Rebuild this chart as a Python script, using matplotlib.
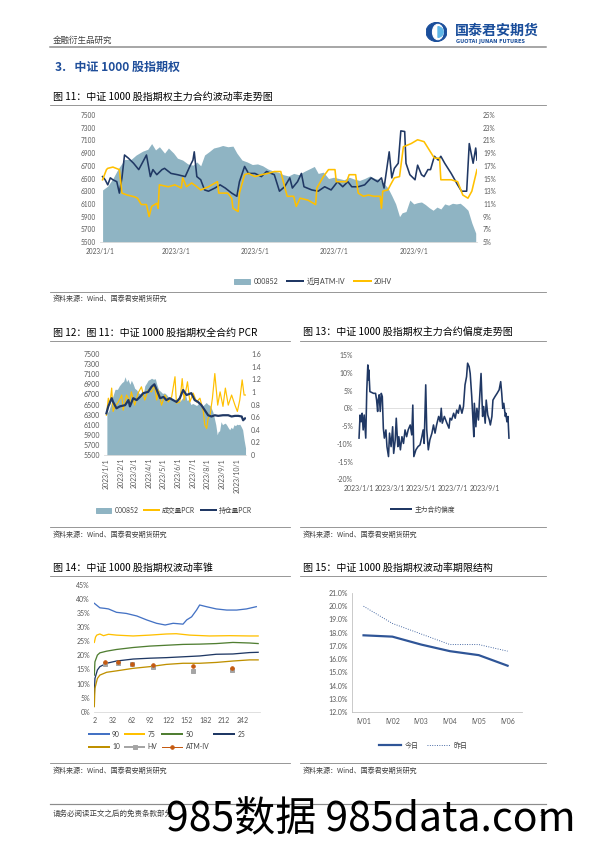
import numpy as np
import pandas as pd
import matplotlib
matplotlib.use('Agg')
import matplotlib.pyplot as plt
import matplotlib.dates as mdates
from matplotlib.lines import Line2D
from matplotlib.patches import Patch, Ellipse, Wedge

plt.rcParams['font.family'] = ['Lato', 'Noto Sans CJK SC', 'DejaVu Sans']
CJK = ['Noto Sans CJK SC', 'DejaVu Sans']

# ---------------- data ----------------
# days counted from 2023-01-01
idx_day = [2, 6, 10, 14, 19, 24, 28, 33, 37, 40, 43, 46, 50, 53, 57, 60, 64, 68, 72, 75,
           78, 81, 85, 88, 92, 95, 99, 103, 106, 110, 114, 118, 122, 126, 130, 134, 138, 142, 146, 150,
           154, 158, 162, 166, 169, 173, 177, 181, 185, 189, 193, 197, 201, 205, 209, 213, 217, 220, 223, 226,
           229, 232, 234, 237, 240, 243, 246, 249, 252, 255, 258, 261, 264, 267, 270, 273, 276, 279, 282, 285,
           288, 291]
idx_val = [6320, 6380, 6500, 6650, 6800, 6800, 6870, 6930, 6960, 7050, 6950, 7000, 6900, 6980, 6900, 6820, 6790, 6730, 6710, 6760,
           6700, 6870, 6930, 6980, 7000, 7020, 7000, 7010, 6900, 6790, 6760, 6720, 6730, 6700, 6650, 6620, 6600, 6560, 6540, 6580,
           6560, 6610, 6650, 6690, 6580, 6600, 6500, 6520, 6500, 6480, 6520, 6490, 6470, 6500, 6540, 6500, 6480, 6420, 6350, 6230,
           6100, 5900, 5960, 5980, 6160, 6100, 6120, 6130, 6090, 6040, 6000, 6050, 6020, 6100, 6080, 6110, 6100, 6110, 6060, 6000,
           5800, 5640]

atm_day = [2, 4, 6, 8, 10, 13, 15, 17, 19, 22, 26, 30, 36, 39, 41, 44, 48, 50, 55, 60,
           66, 70, 72, 73, 75, 78, 81, 84, 89, 93, 97, 102, 106, 108, 112, 115, 120, 125, 129, 135,
           139, 143, 147, 149, 153, 156, 158, 164, 169, 174, 179, 184, 188, 192, 195, 200, 205, 210, 215, 218,
           220, 224, 226, 228, 231, 233, 236, 237, 240, 244, 246, 249, 251, 254, 256, 259, 262, 264, 267, 272,
           277, 280, 284, 286, 289, 291, 292]
atm_val = [15.3, 14.8, 14.0, 15.1, 14.8, 14.5, 12.7, 15.1, 18.7, 18.2, 17.4, 16.4, 18.7, 15.3, 16.4, 15.6, 16.4, 16.6, 15.8, 15.6,
           15.3, 17.1, 17.9, 19.2, 15.3, 14.8, 13.2, 13.0, 13.5, 14.0, 13.5, 12.7, 12.2, 14.5, 16.9, 15.8, 15.8, 15.3, 16.1, 15.6,
           13.0, 13.7, 15.1, 13.5, 14.5, 15.8, 13.7, 13.2, 13.0, 13.7, 13.2, 14.5, 13.7, 14.5, 13.7, 13.7, 14.0, 15.1, 14.5, 15.1,
           13.5, 19.2, 15.1, 16.6, 17.4, 22.5, 22.4, 17.4, 15.6, 14.8, 17.1, 15.6, 15.3, 16.4, 16.4, 18.5, 17.9, 18.5, 17.4, 15.8,
           14.0, 13.0, 13.0, 20.5, 17.4, 19.8, 17.9]

hv_day = [2, 5, 6, 10, 15, 17, 21, 27, 29, 32, 36, 38, 40, 44, 45, 46, 53, 58, 63, 64,
          67, 71, 75, 78, 84, 91, 92, 99, 102, 103, 107, 108, 112, 115, 120, 125, 130, 135, 140, 143,
          145, 150, 152, 155, 161, 167, 168, 173, 177, 182, 183, 191, 193, 198, 200, 204, 208, 212, 217, 218,
          219, 223, 225, 228, 232, 235, 241, 246, 251, 255, 259, 263, 264, 272, 277, 281, 285, 288, 292]
hv_val = [14.8, 16.4, 16.6, 16.8, 16.4, 12.7, 12.4, 12.1, 11.9, 10.9, 10.9, 9.0, 10.6, 11.1, 10.3, 14.0, 13.7, 14.0, 13.5, 15.1,
          13.7, 14.3, 13.7, 13.2, 13.7, 14.5, 12.7, 12.7, 11.9, 10.3, 9.8, 12.7, 15.6, 15.8, 15.3, 15.6, 15.8, 16.1, 16.1, 13.7,
          12.2, 12.2, 10.6, 11.9, 11.6, 10.9, 13.5, 15.3, 16.4, 16.4, 14.5, 14.5, 15.6, 15.6, 12.7, 12.2, 12.4, 12.2, 12.2, 10.3,
          13.0, 13.2, 14.0, 15.1, 15.3, 20.0, 20.5, 21.1, 20.8, 19.5, 18.2, 18.2, 14.8, 14.8, 14.5, 12.4, 11.9, 13.0, 16.4]

# PCR
oi_day = [1, 5, 12, 15, 22, 29, 40, 47, 50, 57, 64, 71, 78, 88, 95, 101, 106, 113, 120, 126,
          133, 140, 147, 154, 161, 168, 178, 185, 192, 199, 206, 213, 220, 227, 234, 244, 255, 262, 269, 276,
          283, 286, 290]
oi_pcr = [0.66, 0.77, 0.90, 0.84, 0.74, 0.77, 0.79, 0.87, 0.77, 0.90, 0.87, 0.92, 0.98, 1.00, 1.08, 1.12, 1.03, 0.90, 0.92, 0.87,
          0.90, 0.87, 0.84, 0.90, 1.03, 0.95, 0.98, 0.87, 0.84, 0.79, 0.71, 0.63, 0.61, 0.63, 0.62, 0.63, 0.63, 0.61, 0.62, 0.62,
          0.61, 0.55, 0.58]
vol_day = [1, 5, 8, 12, 15, 19, 26, 33, 36, 43, 50, 53, 60, 67, 74, 81, 88, 95, 101, 106,
           109, 116, 123, 130, 137, 144, 147, 154, 159, 163, 170, 175, 182, 189, 196, 203, 206, 210, 213, 217,
           222, 227, 233, 238, 244, 249, 255, 262, 269, 274, 279, 284, 288, 291]
vol_pcr = [0.63, 0.90, 0.79, 1.06, 0.69, 0.77, 0.84, 0.95, 0.71, 0.95, 0.84, 1.00, 0.79, 0.98, 1.08, 0.87, 1.03, 1.00, 1.11, 0.87,
           1.03, 0.79, 0.95, 0.84, 0.92, 1.24, 0.82, 0.84, 1.21, 0.87, 1.16, 0.84, 0.98, 0.84, 0.90, 0.69, 0.48, 0.42, 0.58, 0.63,
           0.90, 1.29, 0.79, 1.00, 0.77, 1.06, 0.79, 0.95, 0.79, 0.69, 0.87, 1.19, 0.95, 0.95]

# skew of main contract (%)
skew_day = [0, 2, 4, 6, 8, 10, 13, 15, 17, 18, 19, 21, 28, 32, 34, 36, 37, 39, 41, 43,
            45, 47, 49, 52, 54, 57, 59, 62, 65, 67, 70, 72, 75, 77, 80, 83, 86, 89, 92, 95,
            99, 102, 104, 106, 110, 114, 118, 121, 124, 126, 129, 131, 134, 137, 141, 144, 147, 150, 154, 157,
            159, 161, 165, 170, 174, 176, 179, 183, 186, 189, 192, 195, 199, 202, 205, 208, 210, 213, 215, 218,
            220, 222, 223, 226, 228, 231, 233, 236, 239, 241, 244, 246, 249, 252, 254, 257, 259, 263, 267, 271,
            274, 276, 278, 280, 283, 284, 286, 288, 290]
skew_val = [-8.4, -1.9, -3.8, -1.4, -6.1, -1.9, -8.4, 5.2, 12.2, 8.0, 10.8, 4.7, 4.2, 4.2, 2.3, -0.9, 2.3, 3.8, -0.9, 4.2,
            3.3, -5.6, -8.4, -6.1, -10.8, -13.6, -7.0, -10.8, -5.2, -12.7, -8.9, -2.8, -10.8, -8.0, -11.7, -8.0, -9.9, -6.1, -8.0, -6.1,
            -4.7, -7.5, 0.9, -13.6, -11.7, -10.8, -10.3, -8.4, -6.1, -9.9, 6.6, -6.1, -11.7, -8.9, -7.0, -4.7, -7.0, -4.7, -2.3, -3.8,
            0.0, -4.2, -2.3, -4.2, -5.6, -2.8, -3.3, -1.4, -2.8, -0.5, -1.4, 0.9, -1.4, 0.5, 6.6, 8.9, 12.7, 11.7, 9.8, 3.3,
            -2.3, -8.0, 1.4, -5.2, 0.0, -3.3, 2.3, 9.8, -2.3, 0.5, -4.2, 2.3, -1.9, -3.3, -4.7, -2.3, 2.3, 3.3, 4.2, 5.2,
            7.5, 4.2, 0.0, 1.4, -2.3, -1.4, -3.8, -2.3, -8.4]

# volatility cone (x = days to expiry)
c90_x = [2, 11, 19, 25, 38, 54, 71, 87, 103, 117, 130, 146, 152, 160, 168, 173, 184, 200, 217, 233, 249, 265]
c90_v = [38.5, 36.9, 36.7, 36.5, 35.3, 34.9, 34.0, 32.6, 31.4, 30.8, 31.4, 31.1, 32.6, 33.7, 36.1, 37.9, 37.3, 36.5, 36.1, 36.1, 36.5, 37.3]
c75_x = [2, 4, 6, 11, 17, 25, 38, 65, 92, 119, 135, 157, 189, 222, 254, 268]
c75_v = [24.6, 26.5, 27.2, 27.6, 27.0, 27.5, 27.2, 26.9, 27.2, 27.6, 27.7, 27.2, 26.9, 27.0, 26.9, 26.9]
cone_x = [2, 3, 7, 11, 22, 38, 65, 92, 119, 146, 173, 200, 227, 254, 268]
c50_v = [13.0, 17.7, 20.1, 20.9, 21.5, 22.1, 22.8, 23.3, 23.6, 23.9, 24.0, 24.2, 24.6, 24.4, 24.2]
c25_v = [5.9, 11.8, 14.8, 16.0, 17.2, 18.0, 18.7, 19.0, 19.2, 19.5, 19.8, 20.4, 20.5, 21.0, 21.1]
c10_v = [1.8, 8.3, 11.8, 13.0, 14.0, 14.5, 15.4, 16.0, 16.8, 17.2, 17.2, 17.5, 18.0, 18.4, 18.4]
mkt_x = [20, 40, 63, 98, 163, 225]
hv_pts = [17.0, 17.4, 16.9, 15.8, 14.6, 14.8]
atm_pts = [17.8, 17.7, 17.1, 16.6, 16.3, 15.5]

# term structure
terms = ['IV01', 'IV02', 'IV03', 'IV04', 'IV05', 'IV06']
iv_today = [17.8, 17.7, 17.1, 16.6, 16.3, 15.5]
iv_yday = [20.0, 18.7, 17.9, 17.1, 17.1, 16.6]

# ---------------- style ----------------
AREA = '#8FB4C3'
NAVY = '#203864'
GOLD = '#FFC000'
GRAY = '#595959'
RULE = '#808080'
SRC = '资料来源：Wind、国泰君安期货研究'

W, H = 595, 842
fig = plt.figure(figsize=(W / 72, H / 72), dpi=72)
base = pd.Timestamp('2023-01-01')


def dnum(days):
    return mdates.date2num(base + pd.to_timedelta(days, unit='D'))


def T(x, y, s, **kw):
    kw.setdefault('va', 'center')
    fig.text(x / W, 1 - y / H, s, **kw)


def HL(x0, x1, y, color=RULE, lw=0.8):
    fig.add_artist(Line2D([x0 / W, x1 / W], [1 - y / H, 1 - y / H], color=color, lw=lw,
                          transform=fig.transFigure))


def AX(x0, y0, x1, y1):
    return fig.add_axes([x0 / W, 1 - y1 / H, (x1 - x0) / W, (y1 - y0) / H])


def clean(ax, size=6.5):
    ax.tick_params(length=0, labelsize=size, colors=GRAY)
    for s in ax.spines.values():
        s.set_visible(False)
    ax.patch.set_alpha(0)


def legend(handles, labels, x, y, ncol, **kw):
    fig.legend(handles, labels, loc='center', bbox_to_anchor=(x / W, 1 - y / H), ncol=ncol,
               frameon=False, fontsize=kw.pop('fontsize', 7), handletextpad=0.5,
               labelcolor='#404040', **kw)


def source(x, y):
    T(x, y, SRC, fontsize=7, family=CJK, color='#404040')


# ---------------- page frame ----------------
T(53, 40, '金融衍生品研究', fontsize=8.5, color='#404040', family=CJK)
HL(50, 546, 47, color='#8C8C8C', lw=1.5)
T(55, 67, '3.   中证 1000 股指期权', fontsize=12, color='#1F4E9A', weight='bold', family=CJK)
T(455, 31, '国泰君安期货', fontsize=14, color='#1A4E9B', weight='bold', family=CJK)
T(456, 41.5, 'GUOTAI JUNAN FUTURES', fontsize=5, color='#1A4E9B', weight='bold', family=['DejaVu Sans'])
lg = AX(422, 22, 451, 42)
lg.set_xlim(-1.2, 1.2)
lg.set_ylim(-1.1, 1.1)
lg.set_aspect('equal')
lg.axis('off')
lg.add_patch(Ellipse((0, 0), 2.3, 2.1, color='#1A4E9B'))
lg.add_patch(Ellipse((0.15, 0), 1.2, 1.7, color='white'))
lg.add_patch(Wedge((0.15, 0), 0.6, -90, 90, color='#5FB6E6'))

HL(50, 546, 804, color='#8C8C8C', lw=1.2)
T(53, 814, '请务必阅读正文之后的免责条款部分', fontsize=7.5, color='#404040', family=CJK)
T(540, 814, '5', fontsize=7.5, color='#404040')

# ---------------- fig 11 ----------------
T(53, 97, '图 11：中证 1000 股指期权主力合约波动率走势图', fontsize=10, family=CJK)
HL(50, 546, 105)
ax = AX(100, 115, 477, 242)
clean(ax, 6.5)
ax.fill_between(dnum(idx_day), 5500, idx_val, color=AREA, lw=0)
ax.set_ylim(5500, 7500)
ax.set_yticks(range(5500, 7501, 200))
ax.set_xlim(dnum([0, 292]))
ax.set_xticks(dnum([0, 59, 120, 181, 243]))
ax.set_xticklabels(['2023/1/1', '2023/3/1', '2023/5/1', '2023/7/1', '2023/9/1'])
ax.spines['bottom'].set_visible(True)
ax.spines['bottom'].set_color('#D9D9D9')
ax.tick_params(axis='y', pad=4)
ax.tick_params(axis='x', pad=6)
ax2 = ax.twinx()
clean(ax2, 6.5)
ax2.plot(dnum(atm_day), atm_val, color=NAVY, lw=1.6)
ax2.plot(dnum(hv_day), hv_val, color=GOLD, lw=1.6)
ax2.set_ylim(5, 25)
ax2.set_yticks(range(5, 26, 2))
ax2.set_yticklabels([f'{v}%' for v in range(5, 26, 2)])
ax2.tick_params(axis='y', pad=6)
legend([Patch(color=AREA), Line2D([], [], color=NAVY, lw=2), Line2D([], [], color=GOLD, lw=2)],
       ['000852', '近月ATM-IV', '20HV'], 313, 281, 3, handlelength=2.3, handleheight=0.8, columnspacing=1.3)
HL(50, 546, 292)
source(53, 299)

# ---------------- fig 12 ----------------
T(53, 333, '图 12：图 11：中证 1000 股指期权全合约 PCR', fontsize=10, family=CJK)
HL(50, 290, 341)
ax = AX(104, 354, 246, 455)
clean(ax, 7)
ax.fill_between(dnum(idx_day), 5500, idx_val, color=AREA, lw=0)
ax.set_ylim(5500, 7500)
ax.set_yticks(range(5500, 7501, 200))
ax.set_xlim(dnum([-4, 292]))
months = pd.date_range('2023-01-01', '2023-10-01', freq='MS')
ax.set_xticks(mdates.date2num(months))
ax.set_xticklabels([f'2023/{m.month}/1' for m in months], rotation=90)
ax.spines['bottom'].set_visible(True)
ax.spines['bottom'].set_color('#D9D9D9')
ax.tick_params(axis='y', pad=4)
ax.tick_params(axis='x', pad=3)
ax2 = ax.twinx()
clean(ax2, 7)
ax2.plot(dnum(vol_day), vol_pcr, color=GOLD, lw=1.2)
ax2.plot(dnum(oi_day), oi_pcr, color=NAVY, lw=2.2)
ax2.set_ylim(0, 1.6)
ax2.set_yticks(np.arange(0, 1.61, 0.2))
ax2.set_yticklabels(['0', '0.2', '0.4', '0.6', '0.8', '1', '1.2', '1.4', '1.6'])
ax2.tick_params(axis='y', pad=5)
legend([Patch(color=AREA), Line2D([], [], color=GOLD, lw=2), Line2D([], [], color=NAVY, lw=2)],
       ['000852', '成交量PCR', '持仓量PCR'], 174, 510, 3, fontsize=6.8, handlelength=2.2,
       handleheight=0.8, columnspacing=0.8)
HL(50, 290, 527)
source(53, 535)

# ---------------- fig 13 ----------------
T(303, 333, '图 13：中证 1000 股指期权主力合约偏度走势图', fontsize=10, family=CJK)
HL(300, 546, 341)
ax = AX(358, 355, 510, 479.3)
clean(ax, 6.9)
ax.axhline(0, color='#D9D9D9', lw=0.8)
ax.plot(dnum(skew_day), skew_val, color=NAVY, lw=1.6)
ax.set_ylim(-20, 15)
ax.set_yticks(range(-20, 16, 5))
ax.set_yticklabels([f'{v}%' for v in range(-20, 16, 5)])
ax.set_xlim(dnum([-2, 292]))
ax.set_xticks(dnum([0, 59, 120, 181, 243]))
ax.set_xticklabels(['2023/1/1', '2023/3/1', '2023/5/1', '2023/7/1', '2023/9/1'])
ax.tick_params(axis='y', pad=5)
ax.tick_params(axis='x', pad=6)
legend([Line2D([], [], color=NAVY, lw=2)], ['主力合约偏度'], 423, 509, 1, fontsize=6.8, handlelength=3)
HL(300, 546, 527)
source(303, 535)

# ---------------- fig 14 ----------------
T(53, 568, '图 14：中证 1000 股指期权波动率锥', fontsize=10, family=CJK)
HL(50, 290, 576)
ax = AX(94, 585, 260, 711.7)
clean(ax, 7)
cols = {'90': '#4472C4', '75': '#FFC000', '50': '#507E32', '25': '#1F3864', '10': '#BF9000'}
ax.plot(c90_x, c90_v, color=cols['90'], lw=1.3)
ax.plot(c75_x, c75_v, color=cols['75'], lw=1.3)
ax.plot(cone_x, c50_v, color=cols['50'], lw=1.3)
ax.plot(cone_x, c25_v, color=cols['25'], lw=1.3)
ax.plot(cone_x, c10_v, color=cols['10'], lw=1.3)
ax.plot(mkt_x, hv_pts, 's', color='#A5A5A5', ms=4)
ax.plot(mkt_x, atm_pts, 'o', color='#C55A11', ms=3.5)
ax.set_ylim(0, 45)
ax.set_yticks(range(0, 46, 5))
ax.set_yticklabels([f'{v}%' for v in range(0, 46, 5)])
ax.set_xlim(1.5, 271)
ax.set_xticks(range(2, 243, 30))
ax.spines['bottom'].set_visible(True)
ax.spines['bottom'].set_color('#D9D9D9')
ax.tick_params(axis='y', pad=4)
ax.tick_params(axis='x', pad=5)
h = {k: Line2D([], [], color=c, lw=2) for k, c in cols.items()}
h_hv = Line2D([], [], color='#A5A5A5', lw=2, marker='s', ms=3.5)
h_atm = Line2D([], [], color='#C55A11', lw=1, marker='o', ms=3.5)
legend([h['90'], h['10'], h['75'], h_hv, h['50'], h_atm, h['25']],
       ['90', '10', '75', 'HV', '50', 'ATM-IV', '25'], 167, 740.5, 4, fontsize=6.8,
       handlelength=2.9, columnspacing=0.7, labelspacing=0.8)
HL(50, 290, 763)
source(53, 771)

# ---------------- fig 15 ----------------
T(303, 568, '图 15：中证 1000 股指期权波动率期限结构', fontsize=10, family=CJK)
HL(300, 546, 576)
ax = AX(352, 593, 522, 712)
clean(ax, 7)
xs = np.arange(len(terms))
ax.plot(xs, iv_today, color='#2F5597', lw=2.2)
ax.plot(xs, iv_yday, color='#2F5597', lw=0.9, ls=':')
ax.set_ylim(12, 21)
ax.set_yticks(range(12, 22))
ax.set_yticklabels([f'{v:.1f}%' for v in range(12, 22)])
ax.set_xlim(-0.4, 5.5)
ax.set_xticks(xs)
ax.set_xticklabels(terms)
for s in ('left', 'bottom'):
    ax.spines[s].set_visible(True)
    ax.spines[s].set_color('#BFBFBF')
ax.tick_params(axis='y', pad=4)
ax.tick_params(axis='x', pad=6)
legend([Line2D([], [], color='#2F5597', lw=2.2), Line2D([], [], color='#2F5597', lw=0.9, ls=':')],
       ['今日', '昨日'], 423, 745, 2, fontsize=7, handlelength=3.2, columnspacing=1.2)
HL(300, 546, 763)
source(303, 771)

# watermark at the bottom of the page
T(166, 831, '985数据 985data.com', fontsize=41, va='baseline', color='black',
  family=['Liberation Sans Narrow', 'Noto Sans CJK SC'])

fig.savefig('out.png', dpi=72)
